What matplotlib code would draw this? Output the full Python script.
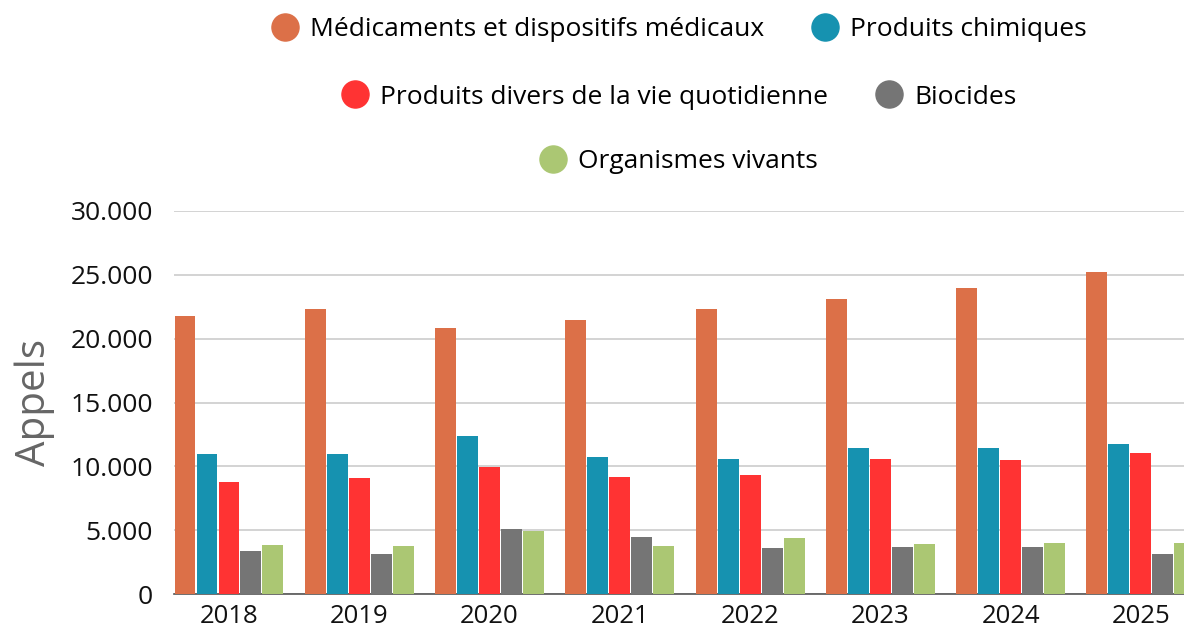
import matplotlib
matplotlib.use("Agg")
import matplotlib.pyplot as plt
from matplotlib.lines import Line2D
from matplotlib.ticker import FuncFormatter
import numpy as np

plt.rcParams['font.family'] = ['Open Sans', 'DejaVu Sans']

years = ["2018", "2019", "2020", "2021", "2022", "2023", "2024", "2025"]
series_names = [
    "Médicaments et dispositifs médicaux",
    "Produits chimiques",
    "Produits divers de la vie quotidienne",
    "Biocides",
    "Organismes vivants",
]
medicaments = [21800, 22300, 20850, 21500, 22300, 23100, 24000, 25250]
chimiques = [10950, 10950, 12400, 10750, 10550, 11450, 11400, 11750]
divers = [8750, 9100, 9950, 9150, 9350, 10600, 10500, 11050]
biocides = [3400, 3150, 5100, 4450, 3600, 3650, 3700, 3150]
vivants = [3800, 3750, 4950, 3750, 4400, 3950, 4000, 4000]

colors = ["#DC7048", "#1692B0", "#FF3333", "#757575", "#ABC773"]
all_series = [medicaments, chimiques, divers, biocides, vivants]

fig = plt.figure(figsize=(11.84, 6.27), dpi=100)
ax = fig.add_axes([174 / 1184, 33 / 627, 1010 / 1184, 383 / 627])

pitch = 0.1688
x = np.arange(len(years))
for j, (vals, col) in enumerate(zip(all_series, colors)):
    ax.bar(x + (j - 2) * pitch, vals, width=pitch - 0.008, color=col, zorder=3)

ax.set_xlim(-2.5 * pitch, 7.331)
ax.set_ylim(0, 30000)
ax.set_yticks(range(0, 30001, 5000))
ax.yaxis.set_major_formatter(FuncFormatter(lambda v, p: f"{int(v):,}".replace(",", ".")))
ax.set_xticks(x)
ax.set_xticklabels(years)
ax.tick_params(axis='both', length=0, colors="#111111")
ax.tick_params(axis='y', pad=15, labelsize=19)
ax.tick_params(axis='x', pad=7, labelsize=18.5)
ax.grid(axis='y', color="#cccccc", linewidth=1.2, zorder=0)
for s in ["top", "right", "left"]:
    ax.spines[s].set_visible(False)
ax.spines["bottom"].set_color("#555555")
ax.spines["bottom"].set_linewidth(1.2)

fig.text(35 / 1184, 1 - 402 / 627, "Appels", rotation=90, ha='center', va='center',
         fontsize=29, color="#666666")

# legend in three centred rows
rows = [[0, 1], [2, 3], [4]]
row_y = [30, 97, 162]
for idx, yy in zip(rows, row_y):
    handles = [Line2D([], [], marker='o', linestyle='none', markersize=19.5,
                      color=colors[k]) for k in idx]
    labels = [series_names[k] for k in idx]
    fig.legend(handles, labels, loc='center', bbox_to_anchor=(679 / 1184, 1 - yy / 627),
               ncol=len(idx), frameon=False, fontsize=19, handlelength=1.0,
               handletextpad=0.45, columnspacing=1.8, borderpad=0, borderaxespad=0)

fig.savefig("out.png", dpi=100)
plt.close(fig)
